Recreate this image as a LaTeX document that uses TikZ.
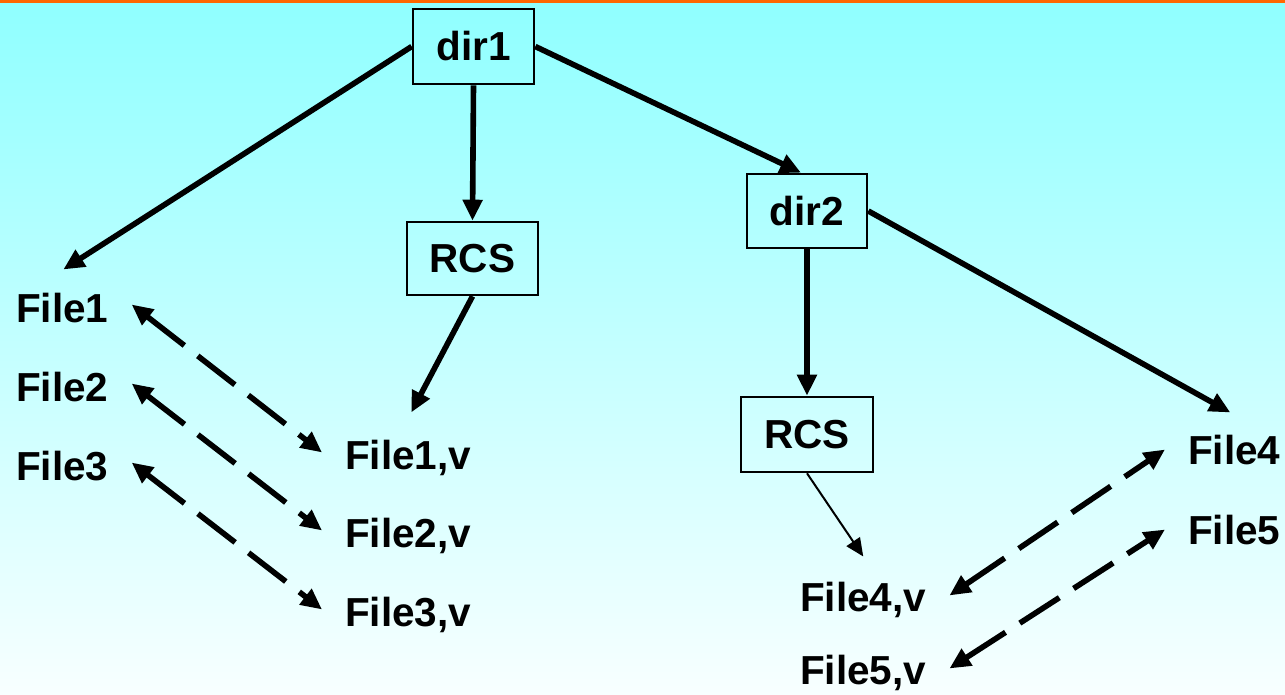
\documentclass[tikz,border=0pt]{standalone}
\usepackage{fontspec}
\setmainfont{Liberation Sans}
\usetikzlibrary{arrows.meta,calc}
\definecolor{bgtop}{RGB}{143,255,255}
\definecolor{bgbot}{RGB}{248,255,255}
\definecolor{bar}{RGB}{255,102,0}
\begin{document}
\begin{tikzpicture}[x=1pt,y=-1pt,
  every node/.style={font=\fontsize{40.5}{48}\selectfont\bfseries},
  boxnode/.style={draw=black,line width=2.6pt,inner sep=0pt,align=center},
  filetext/.style={inner xsep=23pt,inner ysep=0pt,anchor=base west},
  arr/.style={line width=5.6pt,-{Triangle[length=21pt,width=19pt]}},
  thinarr/.style={line width=2pt,-{Triangle[length=18pt,width=16pt]}},
  darr/.style={line width=5.6pt,dash pattern=on 47pt off 17pt,{Triangle[length=21pt,width=19pt]}-{Triangle[length=21pt,width=19pt]}}
]
\useasboundingbox (0,0) rectangle (1285,695);
\shade[top color=bgtop,bottom color=bgbot] (0,0) rectangle (1285,695);
\fill[bar] (0,0) rectangle (1285,3.5);

% boxes
\node[boxnode,minimum width=121pt,minimum height=75pt] (dir1) at (473.5,46.5) {dir1};
\node[boxnode,minimum width=131pt,minimum height=73pt] (rcsa) at (472.5,258.5) {RCS};
\node[boxnode,minimum width=120pt,minimum height=74pt] (dir2) at (807,211) {dir2};
\node[boxnode,minimum width=132pt,minimum height=75pt] (rcsb) at (807,434.5) {RCS};

% text nodes (base west at baseline, shifted by inner xsep)
\node[filetext] (f1) at (-7,322) {File1};
\node[filetext] (f2) at (-7,401) {File2};
\node[filetext] (f3) at (-7,480) {File3};
\node[filetext] (f1v) at (322,469) {File1,v};
\node[filetext] (f2v) at (322,547) {File2,v};
\node[filetext] (f3v) at (322,626) {File3,v};
\node[filetext] (f4v) at (777,611) {File4,v};
\node[filetext] (f5v) at (777,684) {File5,v};
\node[filetext] (f4) at (1165,464) {File4};
\node[filetext] (f5) at (1165,544) {File5};

% solid connectors
\draw[arr] (dir1.west) -- ([xshift=1pt,yshift=23pt]f1.north);
\draw[arr] (dir1.south) -- (rcsa.north);
\draw[arr] (dir1.east) -- ([xshift=-6pt]dir2.north);
\draw[arr] (rcsa.south) -- ([xshift=3pt,yshift=27pt]f1v.north);
\draw[arr] (dir2.south) -- (rcsb.north);
\draw[arr] (dir2.east) -- ([xshift=-4pt,yshift=22pt]f4.north);
\draw[thinarr] (rcsb.south) -- ([yshift=25pt]f4v.north);

% dashed double arrows
\draw[darr] ([yshift=3pt]f1.east) -- ([yshift=5pt]f1v.west);
\draw[darr] ([yshift=3pt]f2.east) -- ([yshift=5pt]f2v.west);
\draw[darr] ([yshift=3pt]f3.east) -- ([yshift=5pt]f3v.west);
\draw[darr] ([yshift=4pt]f4v.east) -- (f4.west);
\draw[darr] ([yshift=4pt]f5v.east) -- (f5.west);
\end{tikzpicture}
\end{document}
